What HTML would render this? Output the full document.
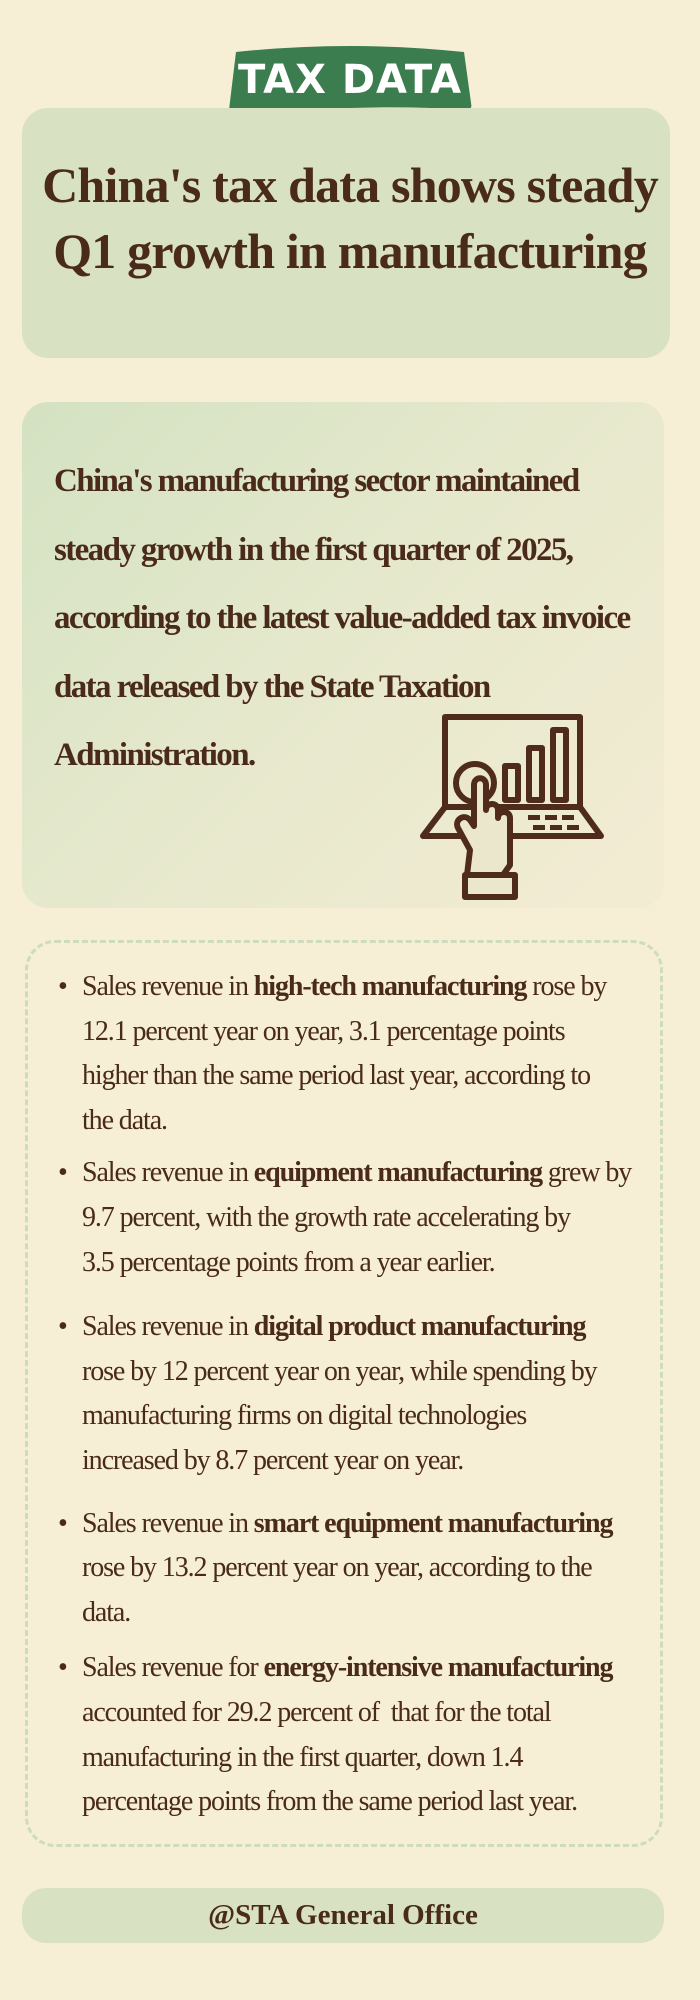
<!DOCTYPE html>
<html><head><meta charset="utf-8">
<style>
html,body{margin:0;padding:0}
body{width:700px;height:2000px;background:#f6eed5;position:relative;overflow:hidden;font-family:"Liberation Serif",serif;color:#4a2a1a}
.abs{position:absolute}
.box1{left:22px;top:108px;width:648px;height:250px;background:#d8e2c2;border-radius:26px}
.title{left:0;width:700px;top:152px;text-align:center;font-weight:bold;font-size:50px;line-height:66px;letter-spacing:-0.8px}
.badge{left:228px;top:46px;width:244px;height:72px;background:#3b7d4e;border-radius:16px;clip-path:path('M8 6 Q122 -6 236 6 L244 64 Q122 56 0 72 Z')}
.badgetxt{left:228px;top:56px;width:244px;text-align:center;color:#fff;font-family:"DejaVu Sans",sans-serif;font-weight:bold;font-size:40px;line-height:48px;letter-spacing:1px}
.box2{left:22px;top:402px;width:642px;height:506px;border-radius:26px;background:linear-gradient(135deg,#d3e2c2 0%,#e5e8cc 45%,#f3ecd3 100%)}
.p2{left:54px;top:447px;font-weight:bold;font-size:33px;line-height:68.5px;white-space:nowrap;letter-spacing:-1.6px}
.box3{left:25px;top:940px;width:638px;height:907px;border:3px dashed #cddcbf;border-radius:30px;box-sizing:border-box}
.list{left:58px;top:965px;font-size:28px;line-height:44.6px;white-space:nowrap;letter-spacing:-1.1px}
.list div{position:relative;padding-left:24px}
.list div:before{content:"•";position:absolute;left:0;top:0;font-size:28px}
.foot{left:22px;top:1888px;width:642px;height:55px;background:#d8e2c2;border-radius:24px;text-align:center;font-weight:bold;font-size:29px;line-height:55px}
</style></head><body>
<div class="abs badge"></div>
<div class="abs badgetxt">TAX DATA</div>
<div class="abs box1"></div>
<div class="abs title">China's tax data shows steady<br>Q1 growth in manufacturing</div>
<div class="abs box2"></div>
<div class="abs p2">China's manufacturing sector maintained<br>steady growth in the first quarter of 2025,<br>according to the latest value-added tax invoice<br>data released by the State Taxation<br>Administration.</div>
<svg class="abs" style="left:415px;top:705px" width="200" height="200" viewBox="415 705 200 200">
<g fill="none" stroke="#4e2b1b" stroke-width="6" stroke-linejoin="round" stroke-linecap="round">
<rect x="445" y="717" width="135" height="90"/>
<path d="M445 807 L423 836 L601 836 L580 807"/>
<rect x="505" y="766" width="13" height="34"/>
<rect x="529" y="748" width="13" height="52"/>
<rect x="553" y="730" width="13" height="70"/>
<circle cx="475" cy="783" r="19" fill="#ebe7cc"/>
<path d="M470 850 L458 828 C454 820 464 813 470 820 L474 826 L474 785 C474 776 486 776 486 785 L486 810 C486 802 498 802 498 810 L498 818 C498 810 510 810 510 818 L510 865 L503 875 L467 875 Z" fill="#ebe7cc"/>
<rect x="465" y="875" width="50" height="22" fill="#ebe7cc"/>
</g>
<g fill="#4e2b1b"><rect x="528" y="815" width="12" height="5"/><rect x="545" y="815" width="12" height="5"/><rect x="562" y="815" width="12" height="5"/>
<rect x="533" y="825" width="12" height="5"/><rect x="550" y="825" width="12" height="5"/><rect x="567" y="825" width="12" height="5"/></g>
</svg>
<div class="abs box3"></div>
<div class="abs list">
<div>Sales revenue in <b>high-tech manufacturing</b> rose by<br>12.1 percent year on year, 3.1 percentage points<br>higher than the same period last year, according to<br>the data.</div>
<div style="margin-top:8px">Sales revenue in <b>equipment manufacturing</b> grew by<br>9.7 percent, with the growth rate accelerating by<br>3.5 percentage points from a year earlier.</div>
<div style="margin-top:20px">Sales revenue in <b>digital product manufacturing</b><br>rose by 12 percent year on year, while spending by<br>manufacturing firms on digital technologies<br>increased by 8.7 percent year on year.</div>
<div style="margin-top:18px">Sales revenue in <b>smart equipment manufacturing</b><br>rose by 13.2 percent year on year, according to the<br>data.</div>
<div style="margin-top:11px">Sales revenue for <b>energy-intensive manufacturing</b><br>accounted for 29.2 percent of&nbsp; that for the total<br>manufacturing in the first quarter, down 1.4<br>percentage points from the same period last year.</div>
</div>
<div class="abs foot">@STA General Office</div>
</body></html>
